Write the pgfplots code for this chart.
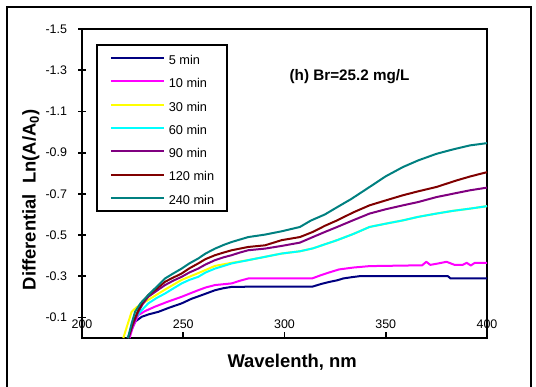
\documentclass[border=0pt]{standalone}
\usepackage{fontspec}
\setmainfont{Liberation Sans}
\usepackage{pgfplots}
\pgfplotsset{compat=1.18}
\definecolor{cA}{RGB}{0,0,128}
\definecolor{cB}{RGB}{255,0,255}
\definecolor{cC}{RGB}{255,255,0}
\definecolor{cD}{RGB}{0,255,255}
\definecolor{cE}{RGB}{128,0,128}
\definecolor{cF}{RGB}{128,0,0}
\definecolor{cG}{RGB}{0,128,128}
\begin{document}
\begin{tikzpicture}
\useasboundingbox (0bp,0bp) rectangle (536bp,387bp);
\draw[line width=2bp] (7bp,0bp) -- (7bp,380bp) -- (530.5bp,380bp) -- (530.5bp,0bp);
\begin{axis}[
  at={(82bp,49bp)}, anchor=south west,
  scale only axis, width=405bp, height=309bp,
  xmin=200, xmax=400, ymin=-1.5, ymax=0, y dir=reverse,
  xtick={200,250,300,350,400}, xticklabels={200,250,300,350,400},
  ytick={-1.5,-1.3,-1.1,-0.9,-0.7,-0.5,-0.3,-0.1},
  yticklabels={-1.5,-1.3,-1.1,-0.9,-0.7,-0.5,-0.3,-0.1},
  xtick pos=left, ytick pos=left,
  tick align=center, major tick length=7bp,
  major tick style={line width=1.8bp, black},
  x tick style={yshift=2.5bp},
  axis line style={line width=2bp},
  ticklabel style={font=\fontsize{12.5}{14}\selectfont},
  xticklabel style={anchor=base, yshift=13bp},
  yticklabel style={xshift=-8bp},
  xlabel={Wavelenth, nm},
  xlabel style={at={(axis description cs:0.519,-0.094)}, anchor=base, font=\bfseries\fontsize{18.5}{22}\selectfont},
  ylabel={Differential\ \ Ln(A/A\textsubscript{0})},
  ylabel style={at={(axis description cs:-0.126,0.447)}, anchor=center, font=\bfseries\fontsize{18.5}{22}\selectfont},
  legend style={at={(axis description cs:0.0346,0.951)}, anchor=north west, draw=black, line width=1.6bp, fill=white,
    font=\fontsize{12.8}{14}\selectfont, inner xsep=13bp, inner ysep=7bp, row sep=10.8bp, column sep=4bp,
    nodes={inner sep=0pt, text height=12.5bp, text depth=0bp}},
  legend cell align=left,
  legend image code/.code={\draw[#1, line width=2bp] (0bp,0bp) -- (53bp,0bp);},
  every axis plot/.append style={line width=2bp, line join=round},
]
\addplot[cA] coordinates {(222.9,0) (224.5,-0.04) (226.2,-0.079) (229.5,-0.103) (233,-0.115) (237.7,-0.127) (243,-0.147) (249.2,-0.168) (254,-0.19) (259.1,-0.208) (265.7,-0.232) (270,-0.242) (273.9,-0.248) (290,-0.25) (300,-0.25) (314,-0.25) (318,-0.262) (322.5,-0.273) (326,-0.28) (329,-0.289) (333,-0.295) (337,-0.30) (380.7,-0.30) (382,-0.289) (400,-0.289)};
\addlegendentry{5 min}
\addplot[cB] coordinates {(223.5,0) (225,-0.05) (227.8,-0.111) (231,-0.13) (236,-0.152) (242,-0.175) (249.2,-0.2) (253,-0.215) (257.4,-0.232) (261,-0.245) (265.7,-0.257) (273.9,-0.265) (278,-0.278) (282.1,-0.289) (313.6,-0.289) (318,-0.305) (322,-0.318) (327,-0.333) (334,-0.342) (342,-0.349) (368,-0.353) (370,-0.37) (372,-0.355) (376,-0.362) (380,-0.37) (384,-0.355) (388,-0.355) (390,-0.365) (392,-0.352) (394,-0.365) (400,-0.365)};
\addlegendentry{10 min}
\addplot[cC] coordinates {(220.4,0) (222,-0.05) (224.5,-0.127) (227,-0.15) (232.7,-0.185) (241,-0.235) (249.2,-0.282) (257.4,-0.315) (265.7,-0.35) (273.9,-0.365) (282.1,-0.378) (290.4,-0.394) (298.6,-0.41) (307.6,-0.421) (314,-0.435) (320,-0.455) (326,-0.475) (334,-0.505) (342,-0.539) (350,-0.555) (358.5,-0.571) (366,-0.588) (375,-0.604) (383,-0.617) (391.6,-0.628) (400,-0.64)};
\addlegendentry{30 min}
\addplot[cD] coordinates {(222.5,0) (224.5,-0.05) (226.2,-0.095) (229,-0.13) (232.7,-0.168) (237,-0.195) (241,-0.216) (245,-0.24) (249.2,-0.265) (253,-0.282) (257.4,-0.297) (261,-0.318) (265.7,-0.337) (270,-0.35) (273.9,-0.362) (282.1,-0.378) (290.4,-0.394) (298.6,-0.41) (307.6,-0.421) (314,-0.435) (320,-0.455) (326,-0.475) (334,-0.505) (342,-0.539) (350,-0.555) (358.5,-0.571) (366,-0.588) (375,-0.604) (383,-0.617) (391.6,-0.628) (400,-0.64)};
\addlegendentry{60 min}
\addplot[cE] coordinates {(223,0) (225,-0.06) (227.8,-0.127) (230,-0.165) (232.7,-0.2) (237,-0.23) (241,-0.257) (245,-0.278) (249.2,-0.297) (253,-0.318) (257.4,-0.337) (261,-0.357) (265.7,-0.378) (270,-0.392) (273.9,-0.402) (278,-0.415) (282.1,-0.426) (290.4,-0.434) (298.6,-0.447) (307.6,-0.463) (314,-0.49) (320,-0.515) (326,-0.539) (334,-0.572) (342,-0.604) (350,-0.625) (358.5,-0.644) (366,-0.66) (375,-0.684) (383,-0.70) (391.6,-0.717) (400,-0.73)};
\addlegendentry{90 min}
\addplot[cF] coordinates {(222.8,0) (225,-0.07) (227.8,-0.135) (230,-0.175) (232.7,-0.208) (237,-0.24) (241,-0.273) (245,-0.293) (249.2,-0.313) (253,-0.338) (257.4,-0.362) (261,-0.383) (265.7,-0.402) (270,-0.415) (273.9,-0.426) (282.1,-0.442) (290.4,-0.45) (298.6,-0.475) (307.6,-0.49) (314,-0.515) (320,-0.545) (326,-0.571) (334,-0.61) (342,-0.644) (350,-0.668) (358.5,-0.693) (366,-0.712) (375,-0.733) (385,-0.765) (392,-0.785) (400,-0.805)};
\addlegendentry{120 min}
\addplot[cG] coordinates {(222.7,0) (224.5,-0.07) (226.2,-0.127) (229,-0.17) (232.7,-0.208) (237,-0.25) (241,-0.289) (245,-0.313) (249.2,-0.337) (253,-0.362) (257.4,-0.386) (261,-0.41) (265.7,-0.434) (270,-0.452) (273.9,-0.466) (282.1,-0.49) (290.4,-0.502) (298.6,-0.518) (307.6,-0.539) (313,-0.57) (320,-0.6) (326,-0.635) (333,-0.675) (342,-0.733) (350,-0.785) (358.5,-0.83) (366,-0.862) (375,-0.894) (383,-0.915) (391.6,-0.935) (400,-0.946)};
\addlegendentry{240 min}
\node[anchor=base west, font=\bfseries\fontsize{15.3}{18}\selectfont] at (axis description cs:0.504,0.833) {(h) Br=25.2 mg/L};
\end{axis}
\end{tikzpicture}
\end{document}
